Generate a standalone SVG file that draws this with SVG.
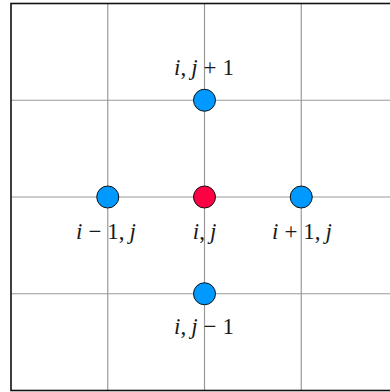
<svg xmlns="http://www.w3.org/2000/svg" width="390" height="392" viewBox="0 0 390 392">
<style>
.grid{stroke:#999;stroke-width:1.2;fill:none}
.border{stroke:#111;stroke-width:1.6;fill:none}
.node{stroke:#111;stroke-width:1}
.nb{fill:#0099ff}
.nr{fill:#ff0044}
.lbl{font-family:"Liberation Serif","DejaVu Serif",serif;font-size:23px;fill:#1a1a1a;text-anchor:middle}
.it{font-style:italic}
</style>
<rect width="390" height="392" fill="#fff"/>
<g id="connectors">
<line class="grid" x1="107.75" y1="3.5" x2="107.75" y2="390.5"/>
<line class="grid" x1="204.5" y1="3.5" x2="204.5" y2="390.5"/>
<line class="grid" x1="301.25" y1="3.5" x2="301.25" y2="390.5"/>
<line class="grid" x1="11" y1="100.25" x2="398" y2="100.25"/>
<line class="grid" x1="11" y1="197" x2="398" y2="197"/>
<line class="grid" x1="11" y1="293.75" x2="398" y2="293.75"/>
<rect class="border" x="11" y="3.5" width="387" height="387"/>
</g>
<g id="n_top">
<circle class="node nb" cx="204.5" cy="100.25" r="11"/>
<text class="lbl" x="204" y="75"><tspan class="it">i</tspan>,<tspan class="it" dx="5">j</tspan><tspan dx="6">+</tspan><tspan dx="6">1</tspan></text>
</g>
<g id="n_left">
<circle class="node nb" cx="107.75" cy="197" r="11"/>
<text class="lbl" x="106" y="239"><tspan class="it">i</tspan><tspan dx="6">−</tspan><tspan dx="6">1</tspan>,<tspan class="it" dx="5">j</tspan></text>
</g>
<g id="n_center">
<circle class="node nr" cx="204.5" cy="197" r="11"/>
<text class="lbl" x="204.5" y="239"><tspan class="it">i</tspan>,<tspan class="it" dx="5">j</tspan></text>
</g>
<g id="n_right">
<circle class="node nb" cx="301.25" cy="197" r="11"/>
<text class="lbl" x="302" y="239"><tspan class="it">i</tspan><tspan dx="6">+</tspan><tspan dx="6">1</tspan>,<tspan class="it" dx="5">j</tspan></text>
</g>
<g id="n_bottom">
<circle class="node nb" cx="204.5" cy="293.75" r="11"/>
<text class="lbl" x="204" y="334"><tspan class="it">i</tspan>,<tspan class="it" dx="5">j</tspan><tspan dx="6">−</tspan><tspan dx="6">1</tspan></text>
</g>
</svg>
